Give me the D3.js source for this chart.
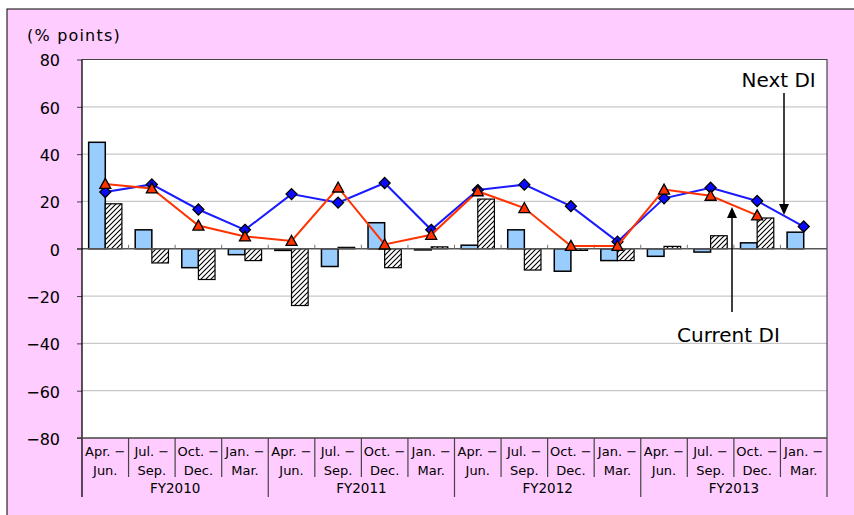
<!DOCTYPE html>
<html><head><meta charset="utf-8">
<script src="https://cdn.jsdelivr.net/npm/d3@7"></script>
<style>body{margin:0;background:#fff} svg{display:block}</style>
</head><body>
<svg id="c" width="854" height="515"></svg>
<script>
// ---- data ----
const categories = [
  "FY2010 Q1","FY2010 Q2","FY2010 Q3","FY2010 Q4",
  "FY2011 Q1","FY2011 Q2","FY2011 Q3","FY2011 Q4",
  "FY2012 Q1","FY2012 Q2","FY2012 Q3","FY2012 Q4",
  "FY2013 Q1","FY2013 Q2","FY2013 Q3","FY2013 Q4"
];
const quarterTop = ["Apr. −","Jul. −","Oct. −","Jan. −"];
const quarterBottom = ["Jun.","Sep.","Dec.","Mar."];
const fiscalYears = ["FY2010","FY2011","FY2012","FY2013"];
const yTicks = [-80,-60,-40,-20,0,20,40,60,80];

const barSolid   = [45, 8, -8, -2.5, -0.7, -7.5, 11, -0.5, 1.5, 8, -9.5, -5, -3.2, -1.4, 2.5, 7];
const barHatched = [19, -6, -13, -5, -24, 0.6, -8, 0.8, 21, -9, -0.7, -5, 1, 5.5, 13, null];
const nextDI     = [24, 27.2, 16.6, 8, 23.1, 19.5, 27.8, 8, 24.8, 27.1, 18, 3, 21.3, 25.8, 20.2, 9.4];
const currentDI  = [27.4, 25.5, 9.8, 5.2, 3.3, 25.9, 1.8, 5.9, 24.3, 17.2, 1.2, 1.2, 25, 22.4, 14.1, null];

// ---- setup ----
const svg = d3.select("#c");
const FONT = "'DejaVu Sans', sans-serif";
const L = 82, R = 827, T = 59.5, B = 438;

svg.append("rect").attr("x",7).attr("y",9).attr("width",860).attr("height",520)
  .attr("fill","#ffccff").attr("stroke","#000").attr("stroke-width",1);

const x = d3.scaleBand().domain(categories).range([L,R]).padding(0);
const xi = d3.scaleBand().domain(["a","b"]).range([0,x.bandwidth()]).paddingInner(0).paddingOuter(0.4);
const y = d3.scaleLinear().domain([-80,80]).range([B,T]);

const defs = svg.append("defs");
const pat = defs.append("pattern").attr("id","hatch").attr("patternUnits","userSpaceOnUse")
  .attr("width",5).attr("height",5);
pat.append("rect").attr("width",5).attr("height",5).attr("fill","#fff");
pat.append("path").attr("d","M-1,1 l2,-2 M0,5 l5,-5 M4,6 l2,-2").attr("stroke","#000").attr("stroke-width",1.1);

// plot area
svg.append("rect").attr("x",L).attr("y",T).attr("width",R-L).attr("height",B-T).attr("fill","#fff");

// gridlines
svg.append("g").selectAll("line").data(yTicks.filter(d=>d!==0 && d!==-80 && d!==80)).join("line")
  .attr("x1",L).attr("x2",R).attr("y1",d=>y(d)).attr("y2",d=>y(d))
  .attr("stroke","#c8c8c8").attr("stroke-width",1.3);

// plot borders (top, right)
svg.append("path").attr("d",`M${L},${T}H${R}V${B}`).attr("fill","none").attr("stroke","#444").attr("stroke-width",1.2);

// y axis
const yAxis = d3.axisLeft(y).tickValues(yTicks).tickSize(5).tickFormat(d=>d<0?"−"+Math.abs(d):d);
const gy = svg.append("g").attr("transform",`translate(${L},0)`).call(yAxis);
gy.select(".domain").remove();
gy.selectAll(".tick line").attr("stroke","#444");
gy.selectAll(".tick text").attr("font-family",FONT).attr("font-size",16).attr("fill","#000").attr("x",-22).attr("dy","0.4em");

svg.append("text").attr("x",27).attr("y",41).attr("font-family",FONT).attr("font-size",16)
  .attr("letter-spacing",1.2).text("(% points)");

// bars
const bars = svg.append("g");
bars.selectAll("rect.s").data(barSolid).join("rect").attr("class","s")
  .attr("x",(d,i)=>x(categories[i])+xi("a")).attr("width",xi.bandwidth())
  .attr("y",d=>y(Math.max(0,d))).attr("height",d=>Math.abs(y(d)-y(0)))
  .attr("fill","#99ccff").attr("stroke","#000").attr("stroke-width",1.5);
bars.selectAll("rect.h").data(barHatched.map((v,i)=>({v,i})).filter(d=>d.v!==null)).join("rect").attr("class","h")
  .attr("x",d=>x(categories[d.i])+xi("b")).attr("width",xi.bandwidth())
  .attr("y",d=>y(Math.max(0,d.v))).attr("height",d=>Math.abs(y(d.v)-y(0)))
  .attr("fill","url(#hatch)").attr("stroke","#000").attr("stroke-width",1.2);

// zero line + minor ticks
svg.append("line").attr("x1",L-5).attr("x2",R).attr("y1",y(0)).attr("y2",y(0)).attr("stroke","#555").attr("stroke-width",1.6);
svg.append("g").selectAll("line").data(categories.slice(1)).join("line")
  .attr("x1",d=>x(d)).attr("x2",d=>x(d)).attr("y1",y(0)-4).attr("y2",y(0))
  .attr("stroke","#777").attr("stroke-width",1);

// lines
const cx = i => x(categories[i]) + x.bandwidth()/2;
const lineGen = d3.line().defined(d=>d.v!==null).x(d=>cx(d.i)).y(d=>y(d.v));
const nextPts = nextDI.map((v,i)=>({v,i}));
const curPts = currentDI.map((v,i)=>({v,i}));
svg.append("path").datum(nextPts).attr("d",lineGen).attr("fill","none").attr("stroke","#1a1aff").attr("stroke-width",2);
svg.append("g").selectAll("path").data(nextPts).join("path")
  .attr("d","M0,-5.5L5.5,0L0,5.5L-5.5,0Z").attr("transform",d=>`translate(${cx(d.i)},${y(d.v)})`)
  .attr("fill","#0a0aff").attr("stroke","#000").attr("stroke-width",1.3);
svg.append("path").datum(curPts).attr("d",lineGen).attr("fill","none").attr("stroke","#ff3300").attr("stroke-width",2);
svg.append("g").selectAll("path").data(curPts.filter(d=>d.v!==null)).join("path")
  .attr("d","M0,-5.5L5.5,4.5L-5.5,4.5Z").attr("transform",d=>`translate(${cx(d.i)},${y(d.v)})`)
  .attr("fill","#ff3300").attr("stroke","#000").attr("stroke-width",1.3);

// left axis line + bottom axis
svg.append("line").attr("x1",L).attr("x2",L).attr("y1",T).attr("y2",497).attr("stroke","#000").attr("stroke-width",1.3);
svg.append("line").attr("x1",L-5).attr("x2",R).attr("y1",B).attr("y2",B).attr("stroke","#444").attr("stroke-width",1.4);

// category separators
const cat = svg.append("g");
categories.forEach((c,i)=>{
  const xs = x(c);
  if(i>0){
    cat.append("line").attr("x1",xs).attr("x2",xs).attr("y1",B).attr("y2",i%4===0?497:477)
      .attr("stroke","#444").attr("stroke-width",1.2);
  }
  cat.append("text").attr("x",cx(i)).attr("y",455.7).attr("text-anchor","middle")
    .attr("font-family",FONT).attr("font-size",13).text(quarterTop[i%4]);
  cat.append("text").attr("x",cx(i)).attr("y",475).attr("text-anchor","middle")
    .attr("font-family",FONT).attr("font-size",13).text(quarterBottom[i%4]);
});
cat.append("line").attr("x1",R).attr("x2",R).attr("y1",B).attr("y2",497).attr("stroke","#444").attr("stroke-width",1.2);
fiscalYears.forEach((fy,k)=>{
  const x0 = x(categories[k*4]), x1 = x(categories[k*4+3]) + x.bandwidth();
  cat.append("text").attr("x",(x0+x1)/2).attr("y",493.3).attr("text-anchor","middle")
    .attr("font-family",FONT).attr("font-size",13.5).text(fy);
});

// annotations
function arrow(xp, yFrom, yTip, dir){
  svg.append("line").attr("x1",xp).attr("x2",xp).attr("y1",yFrom).attr("y2",yTip - dir*9)
    .attr("stroke","#000").attr("stroke-width",1.5);
  svg.append("path").attr("d",`M${xp},${yTip}L${xp-5},${yTip-dir*11}L${xp+5},${yTip-dir*11}Z`).attr("fill","#000");
}
svg.append("text").attr("x",741.5).attr("y",86.5).attr("font-family",FONT).attr("font-size",20).text("Next DI");
arrow(784, 93, 215, 1);
svg.append("text").attr("x",677).attr("y",341.5).attr("font-family",FONT).attr("font-size",20).text("Current DI");
arrow(732, 312, 207, -1);
</script>
</body></html>
